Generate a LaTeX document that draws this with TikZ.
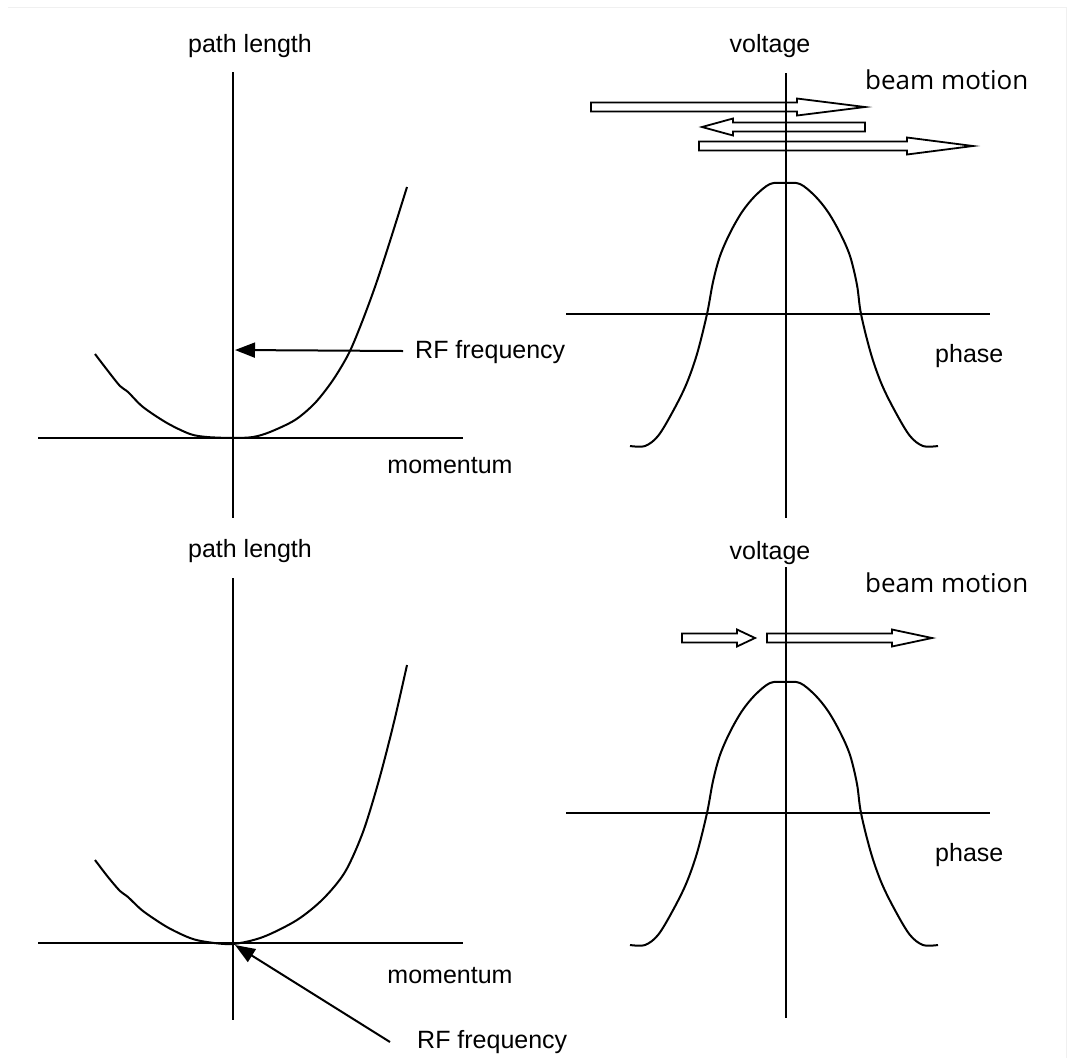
\documentclass[tikz,border=0pt]{standalone}
\usepackage{fontspec}
\setmainfont{Liberation Sans}
\newfontfamily\beamfont{Open Sans}
\usetikzlibrary{arrows.meta}
\newcommand\hollowarrow[4]{\draw[hollow] (#1,#4-4.5) -- (#2,#4-4.5) -- (#2,#4-8.5) -- (#3,#4) -- (#2,#4+8.5) -- (#2,#4+4.5) -- (#1,#4+4.5) -- cycle;}
\newcommand\bellcurve{\draw[curve] plot[smooth,tension=0.55] coordinates {(630,446)(645,446)(658,436)(672,413)(686,385)(697,354)(707,314)(713,282)(720,256)(730,233)(742,212)(755,196)(770,184)(785,183)(800,184)(815,196)(828,212)(840,233)(850,256)(857,285)(861,314)(871,354)(882,385)(896,413)(910,436)(923,446)(938,446)};}
\begin{document}
\begin{tikzpicture}[x=1pt,y=-1pt,
  axis/.style={line width=2pt},
  curve/.style={line width=2pt, line join=round},
  lbl/.style={font=\fontsize{25}{30}\selectfont, inner sep=0pt},
  beamlbl/.style={font=\beamfont\fontsize{26}{30}\selectfont, inner sep=0pt},
  hollow/.style={line width=1.8pt, line join=miter},
  rfarrow/.style={line width=2pt, -{Triangle[length=20pt,width=15pt]}}]
\useasboundingbox (0,0) rectangle (1068,1058);
% faint frame
\draw[gray!12, line width=1pt] (8,7) -- (1066,7) -- (1066,1058);

% ---------- top left ----------
\draw[axis] (233,72) -- (233,518);
\draw[axis] (38,438) -- (463,438);
\node[lbl] (pl1) at (250,46) {path length};
\node[lbl] (mom1) at (450,466) {momentum};
\node[lbl, anchor=west] (rf1) at (415,352) {RF frequency};
\coordinate (rf1tip) at (235,350);
\coordinate (rf1tail) at (403,351);
\draw[rfarrow] (rf1tail) -- (rf1tip);
\draw[curve] plot[smooth,tension=0.5] coordinates {(95,354)(108,371)(120,386)(128,392)(143,407)(167,423)(190,434)(207,437)(233,438)(253,437)(270,432)(295,420)(315,403)(333,380)(349,353)(362,322)(376,284)(391,238)(407,187)};

% ---------- top right ----------
\draw[axis] (786,73) -- (786,518);
\draw[axis] (566,314) -- (990,314);
\node[lbl] (vt1) at (770,46) {voltage};
\node[beamlbl, anchor=west] (bm1) at (865,80) {beam motion};
\node[lbl, anchor=west] (ph1) at (935,356) {phase};
\hollowarrow{591}{797}{865}{107}
\hollowarrow{865}{733}{702}{127}
\hollowarrow{699}{907}{973}{146}
\bellcurve

% ---------- bottom left ----------
\draw[axis] (233,578) -- (233,1020);
\draw[axis] (38,943) -- (463,943);
\node[lbl] (pl2) at (250,551) {path length};
\node[lbl] (mom2) at (450,976) {momentum};
\node[lbl, anchor=west] (rf2) at (417,1042) {RF frequency};
\coordinate (rf2tip) at (235,945);
\coordinate (rf2tail) at (390,1042);
\draw[rfarrow] (rf2tail) -- (rf2tip);
\draw[curve] plot[smooth,tension=0.5] coordinates {(95,860)(108,877)(120,891)(128,897)(143,911)(167,927)(190,938)(207,942)(233,944)(263,937)(297,920)(323,899)(345,872)(363,832)(379,780)(394,722)(407,665)};

% ---------- bottom right ----------
\draw[axis] (786,567) -- (786,1018);
\draw[axis] (566,813) -- (990,813);
\node[lbl] (vt2) at (770,553) {voltage};
\node[beamlbl, anchor=west] (bm2) at (865,583) {beam motion};
\node[lbl, anchor=west] (ph2) at (935,855) {phase};
\hollowarrow{682}{737}{755}{638}
\hollowarrow{767}{892}{932}{638}
\begin{scope}[shift={(0,499)}]
\bellcurve
\end{scope}
\end{tikzpicture}
\end{document}
